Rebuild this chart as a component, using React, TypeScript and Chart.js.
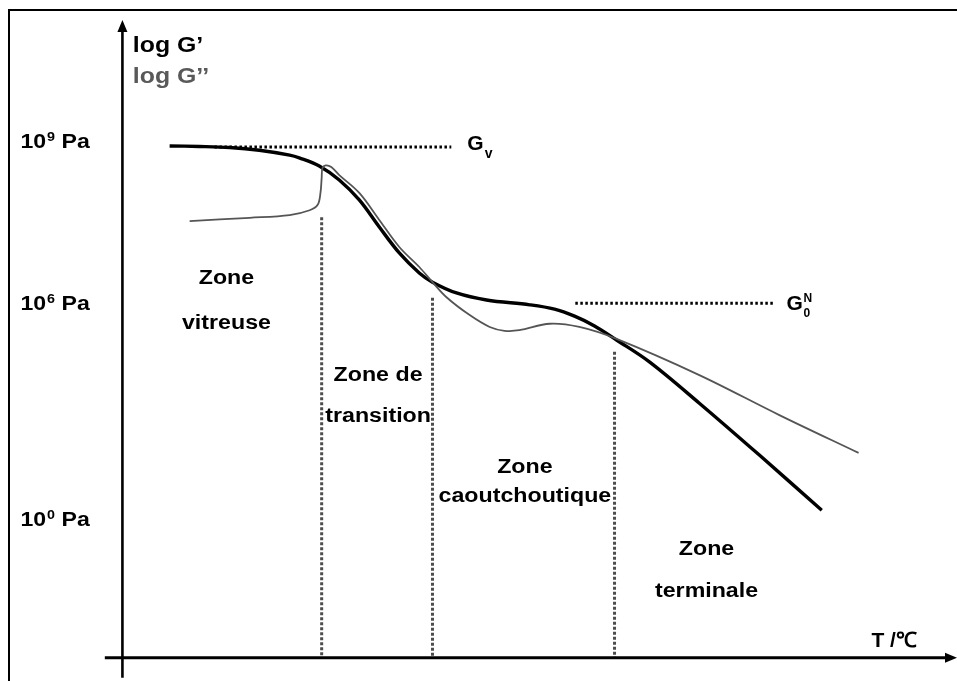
import React, { useEffect, useRef } from 'react';
import { Chart, registerables } from 'chart.js';

Chart.register(...registerables);

// Schematic: temperature T (arbitrary units) vs log G (schematic units)
// Storage modulus G'
const gPrimeT = [5.9, 9.6, 13.4, 17.1, 20.9, 22.1, 24.6, 27.1, 29.6, 32.1, 34.6, 37.1, 38.75, 41.75, 45.5, 50.9, 54, 56.5, 59, 61.75, 65.9, 72.1, 79.6, 87.4];
const gPrimeLog = [8.9, 8.89, 8.87, 8.82, 8.73, 8.68, 8.53, 8.27, 7.9, 7.4, 6.92, 6.55, 6.38, 6.18, 6.05, 5.96, 5.88, 5.75, 5.57, 5.31, 4.9, 4.14, 3.18, 2.16];

// Loss modulus G''
const gSecondT = [8.4, 15.9, 20.9, 23.4, 24.4, 24.75, 24.9, 25.0, 25.4, 26.1, 27.1, 29.6, 32.1, 34.6, 37.1, 38.75, 40.5, 43.4, 45.9, 47.75, 49.6, 53.4, 57.1, 61.75, 72.1, 82.1, 92.0];
const gSecondLog = [7.51, 7.57, 7.62, 7.71, 7.81, 8.03, 8.31, 8.49, 8.54, 8.51, 8.36, 8.03, 7.53, 7.03, 6.66, 6.38, 6.1, 5.77, 5.55, 5.48, 5.49, 5.61, 5.55, 5.33, 4.66, 3.92, 3.22];

// Plateau reference levels
const gvT = [11.5, 41.1];
const gvLog = [8.88, 8.88];
const g0nT = [56.6, 81.5];
const g0nLog = [5.99, 5.99];

// Zone boundaries (vertical dotted lines)
const boundaryT = [24.9, 38.75, 61.5];
const boundaryTopLog = [7.58, 6.09, 5.09];

// Y tick labels
const tickValues = [9, 6, 2];
const tickExponents = ['9', '6', '0'];

// Zone labels
const zoneNames = [
  ['Zone', 'vitreuse'],
  ['Zone de', 'transition'],
  ['Zone', 'caoutchoutique'],
  ['Zone', 'terminale'],
];

// ---- layout (not data) ----
const X_MIN = -15.3;
const X_MAX = 104.3;
const Y_MIN = -1;
const Y_MAX = 11.6;
const AXIS_LOG = -0.57; // where the T axis sits
const AXIS_T = 0; // where the log G axis sits
const Y_AXIS_TOP = 11.23;
const Y_AXIS_BOTTOM = -0.94;
const X_AXIS_LEFT = -2.2;
const zoneAnchorT = [13.0, 31.95, 50.3, 73.0];
const zoneLine1Log = [6.35, 4.55, 2.85, 1.33];
const zoneLine2Log = [5.51, 3.79, 2.31, 0.555];

const FONT = '"Liberation Sans", Arial, Helvetica, sans-serif';

function drawText(
  ctx: CanvasRenderingContext2D,
  s: string,
  x: number,
  y: number,
  size: number,
  align: CanvasTextAlign,
  color: string,
  k: number
) {
  ctx.save();
  ctx.font = `bold ${size}px ${FONT}`;
  ctx.fillStyle = color;
  ctx.textAlign = align;
  ctx.textBaseline = 'alphabetic';
  ctx.translate(x, y);
  ctx.scale(k, 1);
  ctx.fillText(s, 0, 0);
  ctx.restore();
}

function textWidth(ctx: CanvasRenderingContext2D, s: string, size: number, k: number) {
  ctx.save();
  ctx.font = `bold ${size}px ${FONT}`;
  const w = ctx.measureText(s).width * k;
  ctx.restore();
  return w;
}

const schematicPlugin = {
  id: 'schematic',
  afterDraw(chart: any) {
    const ctx: CanvasRenderingContext2D = chart.ctx;
    const xs = chart.scales.x;
    const ys = chart.scales.y;
    const px = (t: number) => xs.getPixelForValue(t);
    const py = (v: number) => ys.getPixelForValue(v);

    ctx.save();
    // outer frame (top/left visible)
    ctx.strokeStyle = '#000';
    ctx.lineWidth = 2;
    ctx.beginPath();
    ctx.moveTo(9, chart.height + 20);
    ctx.lineTo(9, 10);
    ctx.lineTo(chart.width + 20, 10);
    ctx.stroke();

    // y axis
    const ax = px(AXIS_T);
    const ayTop = py(Y_AXIS_TOP);
    ctx.lineWidth = 2.6;
    ctx.beginPath();
    ctx.moveTo(ax, py(Y_AXIS_BOTTOM));
    ctx.lineTo(ax, ayTop + 8);
    ctx.stroke();
    ctx.fillStyle = '#000';
    ctx.beginPath();
    ctx.moveTo(ax, ayTop);
    ctx.lineTo(ax - 5, ayTop + 12);
    ctx.lineTo(ax + 5, ayTop + 12);
    ctx.closePath();
    ctx.fill();

    // x axis
    const ay = py(AXIS_LOG);
    const axRight = px(X_MAX);
    ctx.lineWidth = 2.8;
    ctx.beginPath();
    ctx.moveTo(px(X_AXIS_LEFT), ay);
    ctx.lineTo(axRight - 8, ay);
    ctx.stroke();
    ctx.beginPath();
    ctx.moveTo(axRight, ay);
    ctx.lineTo(axRight - 12, ay - 5);
    ctx.lineTo(axRight - 12, ay + 5);
    ctx.closePath();
    ctx.fill();
    ctx.restore();

    // tick labels
    const tickLeft = px(-12.75);
    tickValues.forEach((v, i) => {
      const base = py(v) + 7.5;
      const k = 1.1;
      let x = tickLeft;
      drawText(ctx, '10', x, base, 21, 'left', '#000', k);
      x += textWidth(ctx, '10', 21, k) + 1;
      drawText(ctx, tickExponents[i], x, base - 7, 13, 'left', '#000', k);
      x += textWidth(ctx, tickExponents[i], 13, k);
      drawText(ctx, ' Pa', x, base, 21, 'left', '#000', k);
    });

    // axis titles
    drawText(ctx, 'log G\u2019', px(1.3), py(10.64), 22, 'left', '#000', 1.13);
    drawText(ctx, 'log G\u2019\u2019', px(1.3), py(10.06), 22, 'left', '#595959', 1.13);
    drawText(ctx, 'T /\u2103', px(93.6), py(-0.37), 21, 'left', '#000', 1.0);

    // plateau labels
    const gvx = px(43.1);
    const gvy = py(8.82);
    drawText(ctx, 'G', gvx, gvy, 21, 'left', '#000', 1);
    const gw = textWidth(ctx, 'G', 21, 1);
    drawText(ctx, 'v', gvx + gw + 1, gvy + 8, 14, 'left', '#000', 1);

    const gnx = px(83);
    const gny = py(5.86);
    drawText(ctx, 'G', gnx, gny, 21, 'left', '#000', 1);
    const gw2 = textWidth(ctx, 'G', 21, 1);
    drawText(ctx, 'N', gnx + gw2 + 0.5, gny - 8, 12, 'left', '#000', 1);
    drawText(ctx, '0', gnx + gw2 + 0.5, gny + 7, 12, 'left', '#000', 1);

    // zone labels
    zoneNames.forEach((lines, i) => {
      drawText(ctx, lines[0], px(zoneAnchorT[i]), py(zoneLine1Log[i]), 20, 'center', '#000', 1.16);
      drawText(ctx, lines[1], px(zoneAnchorT[i]), py(zoneLine2Log[i]), 20, 'center', '#000', 1.16);
    });
  },
};

export default function App() {
  const canvasRef = useRef<HTMLCanvasElement | null>(null);

  useEffect(() => {
    if (!canvasRef.current) return;
    const pts = (xs: number[], ys: number[]) => xs.map((x, i) => ({ x, y: ys[i] }));

    const boundaryDatasets = boundaryT.map((t, i) => ({
      label: `boundary${i}`,
      data: [
        { x: t, y: boundaryTopLog[i] },
        { x: t, y: AXIS_LOG },
      ],
      showLine: true,
      borderColor: '#4d4d4d',
      borderWidth: 3,
      borderDash: [3, 2],
      borderCapStyle: 'butt' as const,
      pointRadius: 0,
      tension: 0,
      fill: false,
    }));

    const chart = new Chart(canvasRef.current, {
      type: 'scatter',
      data: {
        datasets: [
          ...boundaryDatasets,
          {
            label: 'Gv',
            data: pts(gvT, gvLog),
            showLine: true,
            borderColor: '#000',
            borderWidth: 3,
            borderDash: [2.5, 2.5],
            borderCapStyle: 'butt',
            pointRadius: 0,
            tension: 0,
          },
          {
            label: 'G0N',
            data: pts(g0nT, g0nLog),
            showLine: true,
            borderColor: '#000',
            borderWidth: 3,
            borderDash: [2.5, 2.5],
            borderCapStyle: 'butt',
            pointRadius: 0,
            tension: 0,
          },
          {
            label: "G''",
            data: pts(gSecondT, gSecondLog),
            showLine: true,
            borderColor: '#555555',
            borderWidth: 1.8,
            pointRadius: 0,
            tension: 0.35,
          },
          {
            label: "G'",
            data: pts(gPrimeT, gPrimeLog),
            showLine: true,
            borderColor: '#000',
            borderWidth: 3.4,
            pointRadius: 0,
            tension: 0.35,
          },
        ] as any,
      },
      options: {
        animation: false,
        responsive: false,
        devicePixelRatio: 1,
        layout: { padding: 0 },
        plugins: {
          legend: { display: false },
          tooltip: { enabled: false },
        },
        scales: {
          x: { type: 'linear', min: X_MIN, max: X_MAX, display: false },
          y: { type: 'linear', min: Y_MIN, max: Y_MAX, display: false },
        },
      },
      plugins: [schematicPlugin],
    });
    return () => chart.destroy();
  }, []);

  return (
    <div style={{ position: 'fixed', left: 0, top: 0, width: 957, height: 681, background: '#fff' }}>
      <canvas ref={canvasRef} width={957} height={681} style={{ display: 'block' }} />
    </div>
  );
}
